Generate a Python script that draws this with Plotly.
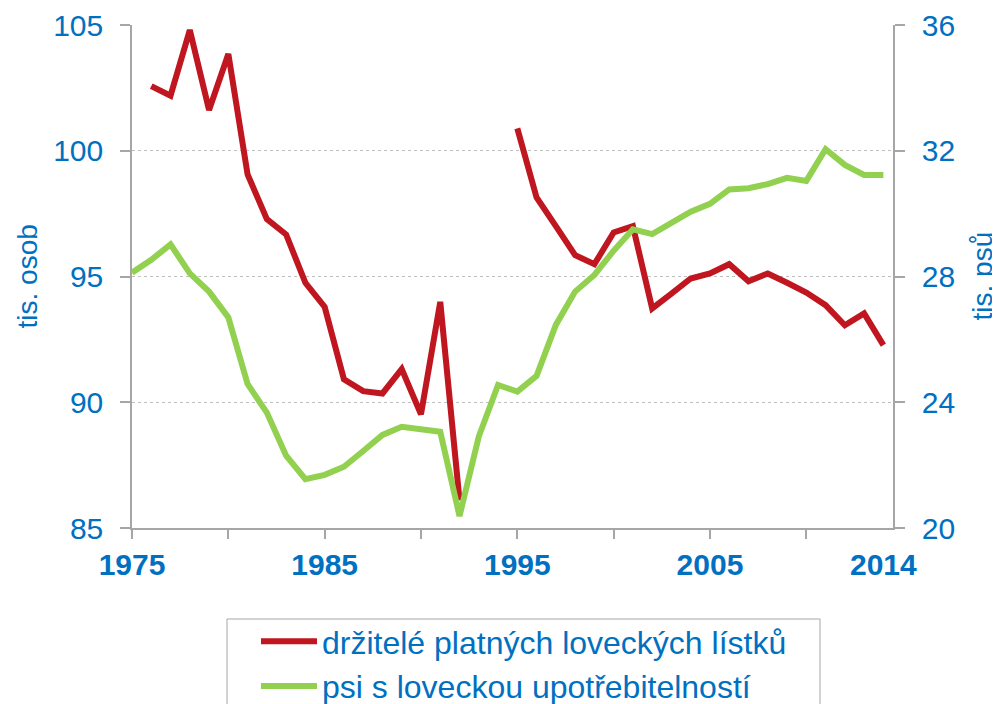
import plotly.graph_objects as go

# ---- data ----
years = list(range(1975, 2015))

# holders of valid hunting licences (thousands of persons), left axis
hunters = [None, 102.57, 102.19, 104.8, 101.62, 103.85, 99.06, 97.28, 96.67, 94.75,
           93.79, 90.91, 90.44, 90.35, 91.32, 89.52, 93.99, 86.1, None, None,
           100.89, 98.14, 97.0, 95.85, 95.49, 96.75, 97.0, 93.73, 94.32, 94.92,
           95.12, 95.49, 94.81, 95.12, 94.75, 94.36, 93.86, 93.06, 93.53, 92.27]

# dogs with hunting usability (thousands of dogs), right axis
dogs = [28.12, 28.53, 29.02, 28.1, 27.52, 26.7, 24.58, 23.67, 22.3, 21.55,
        21.69, 21.95, 22.45, 22.96, 23.22, 23.12, 23.06, 20.38, 22.91, 24.55,
        24.34, 24.84, 26.46, 27.52, 28.05, 28.82, 29.5, 29.35, 29.71, 30.06,
        30.31, 30.77, 30.81, 30.94, 31.14, 31.04, 32.05, 31.55, 31.23, 31.23]

series_names = ["držitelé platných loveckých lístků", "psi s loveckou upotřebitelností"]

x_tick_vals = [1975, 1980, 1985, 1990, 1995, 2000, 2005, 2010]
x_tick_text = ["1975", "", "1985", "", "1995", "", "2005", ""]
x_last_label = "2014"

left_ticks = [85, 90, 95, 100, 105]
right_ticks = [20, 24, 28, 32, 36]

left_title = "tis. osob"
right_title = "tis. psů"

# ---- style ----
BLUE = "#0070C0"
RED = "#C0161F"
GREEN = "#92D050"
AXIS = "#A6A6A6"
GRID = "#BFBFBF"
FONT = "Liberation Sans, Arial, sans-serif"

# the page body adds an 8 px offset, so the figure is 8 px smaller each way
W, H = 992, 696
OFF = 8
PL, PR, PT, PB = 132, 893, 25, 528   # plot area in page pixels


def px_x(p):
    return (p - PL) / (PR - PL)


def px_y(p):
    return (PB - p) / (PB - PT)


fig = go.Figure()
fig.add_trace(go.Scatter(x=years, y=hunters, name=series_names[0], mode="lines",
                         line=dict(color=RED, width=6), connectgaps=False, yaxis="y",
                         legendgroup="a"))
fig.add_trace(go.Scatter(x=years, y=dogs, name=series_names[1], mode="lines",
                         line=dict(color=GREEN, width=6), yaxis="y2",
                         legendgroup="b"))

fig.update_layout(
    width=W, height=H,
    margin=dict(l=PL - OFF, r=W - (PR - OFF), t=PT - OFF, b=H - (PB - OFF), autoexpand=False),
    paper_bgcolor="white", plot_bgcolor="white",
    font=dict(family=FONT, color=BLUE),
    showlegend=True,
    legend=dict(
        xref="container", yref="container",
        x=(256 - OFF) / W, y=1 - (614 - OFF) / H, xanchor="left", yanchor="top",
        font=dict(size=32, color=BLUE, family=FONT),
        borderwidth=0, bgcolor="rgba(0,0,0,0)",
        tracegroupgap=0, itemwidth=56,
    ),
    xaxis=dict(
        range=[1975, 2014.5], tickmode="array", tickvals=x_tick_vals, ticktext=x_tick_text,
        ticks="outside", ticklen=9, tickcolor=AXIS, tickwidth=1.5, automargin=False,
        showline=True, linecolor=AXIS, linewidth=1.5, showgrid=False, zeroline=False,
        tickfont=dict(size=30, color=BLUE, family=FONT, weight="bold"),
    ),
    yaxis=dict(
        range=[85, 105], tickmode="array", tickvals=left_ticks, automargin=False,
        ticks="outside", ticklen=10, tickcolor=AXIS, tickwidth=1.5,
        showline=True, linecolor=AXIS, linewidth=1.5,
        showgrid=True, gridcolor=GRID, griddash="dot", gridwidth=1, zeroline=False,
        tickfont=dict(size=30, color=BLUE, family=FONT),
        ticklabelstandoff=11,
    ),
    yaxis2=dict(
        range=[20, 36], tickmode="array", tickvals=right_ticks, overlaying="y", side="right",
        ticks="outside", ticklen=10, tickcolor=AXIS, tickwidth=1.5, automargin=False,
        showline=True, linecolor=AXIS, linewidth=1.5, showgrid=False, zeroline=False,
        tickfont=dict(size=30, color=BLUE, family=FONT),
        ticklabelstandoff=11,
    ),
)

# legend frame (extends below the visible page, as in the original)
fig.add_shape(type="rect", xref="paper", yref="paper",
              x0=px_x(227), x1=px_x(820), y0=px_y(740), y1=px_y(619),
              line=dict(color=AXIS, width=1), fillcolor="rgba(0,0,0,0)", layer="below")

fig.add_annotation(x=2014, xref="x", y=0, yref="paper", text=x_last_label, showarrow=False,
                   yanchor="top", yshift=-18,
                   font=dict(size=30, color=BLUE, family=FONT, weight="bold"))

fig.add_annotation(x=px_x(27), xref="paper", y=0.5, yref="paper", text=left_title,
                   textangle=-90, showarrow=False, xanchor="center", yanchor="middle",
                   font=dict(size=28, color=BLUE, family=FONT))
fig.add_annotation(x=px_x(982), xref="paper", y=0.5, yref="paper", text=right_title,
                   textangle=-90, showarrow=False, xanchor="center", yanchor="middle",
                   font=dict(size=28, color=BLUE, family=FONT))

fig.write_html("out.html")
